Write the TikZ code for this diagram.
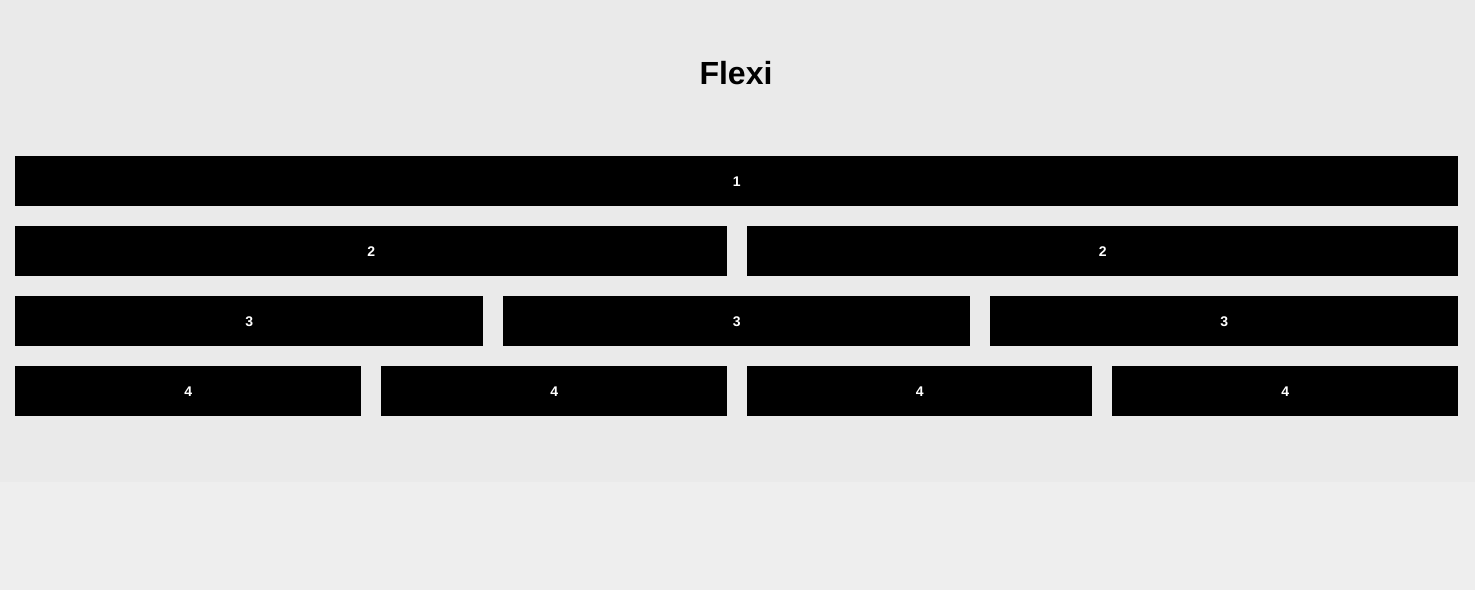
\documentclass[tikz,border=0pt]{standalone}
\usepackage{fontspec}
\setmainfont{Liberation Sans}
\definecolor{bgtop}{HTML}{EAEAEA}
\definecolor{bgbot}{HTML}{EEEEEE}
\begin{document}
\begin{tikzpicture}[x=1pt,y=-1pt,
  cell/.style={fill=black,draw=none,inner sep=0pt,text=white,font=\fontsize{14}{16}\selectfont\bfseries,anchor=north west},
]
\useasboundingbox (0,0) rectangle (1475,590);
\fill[bgbot] (0,0) rectangle (1475,590);
\fill[bgtop] (0,0) rectangle (1475,482);
\node[font=\fontsize{32}{38}\selectfont\bfseries,anchor=base] (title) at (736,84) {Flexi};
% row 1
\node[cell,minimum width=1443pt,minimum height=50pt] (r1a) at (15,156) {1};
% row 2
\node[cell,minimum width=712pt,minimum height=50pt] (r2a) at (15,226) {2};
\node[cell,minimum width=711pt,minimum height=50pt] (r2b) at (747,226) {2};
% row 3
\node[cell,minimum width=468pt,minimum height=50pt] (r3a) at (15,296) {3};
\node[cell,minimum width=467pt,minimum height=50pt] (r3b) at (503,296) {3};
\node[cell,minimum width=468pt,minimum height=50pt] (r3c) at (990,296) {3};
% row 4
\node[cell,minimum width=346pt,minimum height=50pt] (r4a) at (15,366) {4};
\node[cell,minimum width=346pt,minimum height=50pt] (r4b) at (381,366) {4};
\node[cell,minimum width=345pt,minimum height=50pt] (r4c) at (747,366) {4};
\node[cell,minimum width=346pt,minimum height=50pt] (r4d) at (1112,366) {4};
\end{tikzpicture}
\end{document}
